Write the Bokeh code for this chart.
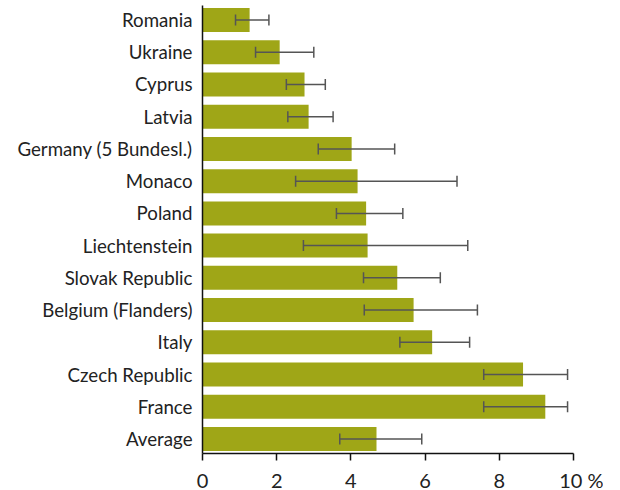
from bokeh.plotting import figure
from bokeh.models import ColumnDataSource, Whisker, TeeHead, FixedTicker, FactorRange
from bokeh.embed import file_html
from bokeh.resources import INLINE

countries = ["Romania", "Ukraine", "Cyprus", "Latvia", "Germany (5 Bundesl.)", "Monaco",
             "Poland", "Liechtenstein", "Slovak Republic", "Belgium (Flanders)", "Italy",
             "Czech Republic", "France", "Average"]
values = [1.27, 2.08, 2.75, 2.86, 4.02, 4.18, 4.41, 4.45, 5.25, 5.69, 6.19, 8.64, 9.24, 4.69]
err_low = [0.89, 1.43, 2.26, 2.30, 3.12, 2.51, 3.61, 2.72, 4.34, 4.36, 5.32, 7.58, 7.58, 3.70]
err_high = [1.79, 3.00, 3.31, 3.52, 5.18, 6.86, 5.40, 7.15, 6.41, 7.41, 7.20, 9.84, 9.84, 5.91]
x_ticks = [0, 2, 4, 6, 8, 10]
x_tick_labels = {0: "0", 2: "2", 4: "4", 6: "6", 8: "8",
                 10: "\u00a0\u00a0\u00a0\u00a0\u00a010\u00a0%"}

FONT = "Lato"
src = ColumnDataSource(dict(c=countries, v=values, lo=err_low, hi=err_high))

yr = FactorRange(factors=list(reversed(countries)), range_padding=-0.05,
                 range_padding_units="absolute")
p = figure(y_range=yr, x_range=(0, 10), frame_width=371, frame_height=448,
           output_backend="svg", toolbar_location=None,
           min_border_left=202, min_border_right=30, min_border_top=5, min_border_bottom=0)
p.outline_line_color = None
p.grid.visible = False
p.background_fill_color = "white"

p.hbar(y="c", right="v", left=0, height=0.745, source=src, fill_color="#9fa617", line_color=None)

w = Whisker(base="c", lower="lo", upper="hi", dimension="width", source=src, level="overlay",
            line_color="#555555", line_width=1.5,
            lower_head=TeeHead(size=11, line_color="#555555", line_width=1.5),
            upper_head=TeeHead(size=11, line_color="#555555", line_width=1.5))
p.add_layout(w)

p.yaxis.major_tick_line_color = None
p.yaxis.minor_tick_line_color = None
p.yaxis.axis_line_color = "#111111"
p.yaxis.axis_line_width = 1.5
p.yaxis.major_label_standoff = 4
p.yaxis.major_label_text_font = FONT
p.yaxis.major_label_text_font_size = "18.7px"
p.yaxis.major_label_text_color = "#222222"

p.xaxis.ticker = FixedTicker(ticks=x_ticks)
p.xaxis.major_label_overrides = x_tick_labels
p.xaxis.minor_tick_line_color = None
p.xaxis.axis_line_color = "#111111"
p.xaxis.axis_line_width = 1.5
p.xaxis.major_tick_line_color = "#111111"
p.xaxis.major_tick_line_width = 1.5
p.xaxis.major_tick_in = 0
p.xaxis.major_tick_out = 7
p.xaxis.major_label_standoff = 7
p.xaxis.major_label_text_font = FONT
p.xaxis.major_label_text_font_size = "20px"
p.xaxis.major_label_text_color = "#222222"

open("out.html", "w").write(file_html(p, INLINE))
